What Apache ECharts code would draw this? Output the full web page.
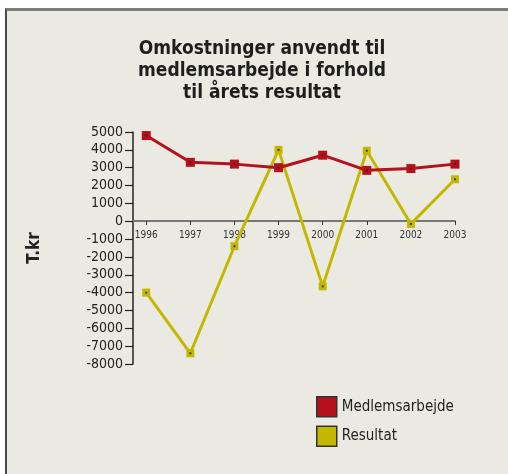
<!DOCTYPE html>
<html>
<head>
<meta charset="utf-8">
<script src="https://cdn.jsdelivr.net/npm/echarts@6/dist/echarts.min.js"></script>
<style>
html,body{margin:0;padding:0;background:#fff;}
#bg{position:absolute;left:5px;top:8px;width:503px;height:466px;background:#ebeae2;border-top:3px solid #7d7d7b;border-left:2px solid #4a4a48;box-sizing:border-box;}
#chart{position:absolute;left:0;top:0;width:508px;height:474px;}
</style>
</head>
<body>
<div id="bg"></div>
<div id="chart"></div>
<script>
const years = [1996, 1997, 1998, 1999, 2000, 2001, 2002, 2003];
const medlemsarbejde = [4800, 3300, 3200, 3000, 3700, 2850, 2950, 3200];
const resultat = [-4000, -7400, -1400, 4000, -3650, 3950, -150, 2350];
const yTicks = [5000, 4000, 3000, 2000, 1000, 0, -1000, -2000, -3000, -4000, -5000, -6000, -7000, -8000];

const FONT = '"DejaVu Sans Condensed", "DejaVu Sans", sans-serif';
const RED = '#b5111c';
const YEL = '#c4b700';

function pairs(vals){ return years.map((y,i)=>[y, vals[i]]); }

const chart = echarts.init(document.getElementById('chart'));
chart.setOption({
  backgroundColor: 'transparent',
  animation: false,
  textStyle: { fontFamily: FONT },
  title: {
    text: 'Omkostninger anvendt til\nmedlemsarbejde i forhold\ntil årets resultat',
    left: 257, top: 33, textAlign: 'center',
    textStyle: { fontFamily: FONT, fontWeight: 'bold', fontSize: 19, lineHeight: 22, color: '#1e1e1e' }
  },
  grid: { left: 133, right: 53, top: 132, bottom: 110, containLabel: false },
  xAxis: {
    type: 'value', min: 1995.7, max: 2003, offset: -143,
    axisLine: { onZero: false, lineStyle: { color: '#777', width: 2 } },
    axisTick: { show: true, length: 4, inside: false, lineStyle: { color: '#333', width: 1 }, customValues: years },
    axisLabel: { customValues: years, fontSize: 10, color: '#333', margin: 9, fontFamily: FONT, formatter: v => String(Math.round(v)) },
    splitLine: { show: false }
  },
  yAxis: {
    type: 'value', min: -8000, max: 5000, interval: 1000,
    name: 'T.kr', nameLocation: 'middle', nameRotate: 90, nameGap: 90,
    nameTextStyle: { fontFamily: FONT, fontWeight: 'bold', fontSize: 17, color: '#222' },
    axisLine: { show: true, lineStyle: { color: '#222', width: 1.5 } },
    axisTick: { show: true, length: 8, lineStyle: { color: '#222', width: 1.2 } },
    axisLabel: { fontSize: 14, color: '#222', margin: 10, fontFamily: FONT, formatter: v => String(v) },
    splitLine: { show: false }
  },
  legend: {
    orient: 'vertical', left: 311, top: 391, itemWidth: 20, itemHeight: 20, itemGap: 8,
    textStyle: { fontFamily: FONT, fontSize: 15, color: '#222' },
    data: [
      { name: 'Medlemsarbejde', icon: 'rect', itemStyle: { color: RED, borderColor: '#333', borderWidth: 1.5 } },
      { name: 'Resultat', icon: 'rect', itemStyle: { color: YEL, borderColor: '#333', borderWidth: 1.5 } }
    ]
  },
  series: [
    {
      name: 'Resultat', type: 'line', data: pairs(resultat),
      lineStyle: { color: YEL, width: 3 }, itemStyle: { color: YEL },
      symbol: 'rect', symbolSize: 8, z: 2
    },
    {
      name: 'Medlemsarbejde', type: 'line', data: pairs(medlemsarbejde),
      lineStyle: { color: RED, width: 3 }, itemStyle: { color: RED },
      symbol: 'rect', symbolSize: 9, z: 3
    },
    {
      name: 'dotsR', type: 'scatter', data: pairs(resultat), symbol: 'rect', symbolSize: 2,
      itemStyle: { color: '#222' }, z: 4, silent: true
    },
    {
      name: 'dotsM', type: 'scatter', data: pairs(medlemsarbejde), symbol: 'rect', symbolSize: 2,
      itemStyle: { color: '#222' }, z: 4, silent: true
    }
  ]
});
</script>
</body>
</html>
